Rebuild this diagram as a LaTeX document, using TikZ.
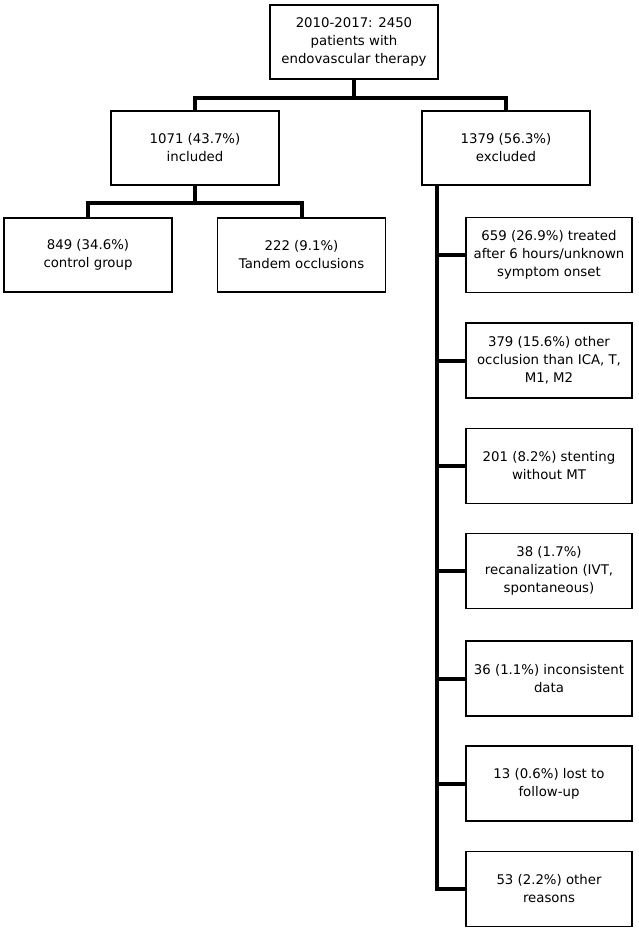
\documentclass[tikz,border=0pt]{standalone}
\usepackage{fontspec}
\setmainfont{DejaVu Sans}
\begin{document}
\begin{tikzpicture}[x=1pt,y=-1pt,
  box/.style={draw,line width=1.5pt,align=center,minimum width=168pt,minimum height=74pt,inner sep=0pt},
  conn/.style={line width=4pt}]
\fontsize{13.3}{18}\selectfont
%%
\newcommand{\rsn}[3]{\node[box,minimum width=166pt,minimum height=75pt](#1) at (549,#2){#3};}
%%
\useasboundingbox (0,0) rectangle (638,931);
%
\node[box] (all) at (354,42) {2010-2017: 2450\\patients with\\endovascular therapy};
\node[box] (incl) at (195,148) {1071 (43.7\%)\\included};
\node[box] (excl) at (506,148) {1379 (56.3\%)\\excluded};
\node[box] (ctrl) at (88,255) {849 (34.6\%)\\control group};
\node[box] (tand) at (301.5,255) {222 (9.1\%)\\Tandem occlusions};
%
\rsn{late}{255}{659 (26.9\%) treated\\after 6 hours/unknown\\symptom onset}
\rsn{occl}{360.5}{379 (15.6\%) other\\occlusion than ICA, T,\\M1, M2}
\rsn{stent}{466}{201 (8.2\%) stenting\\without MT}
\rsn{recan}{571}{38 (1.7\%)\\recanalization (IVT,\\spontaneous)}
\rsn{incon}{678.5}{36 (1.1\%) inconsistent\\data}
\rsn{lost}{783.5}{13 (0.6\%) lost to\\follow-up}
\rsn{other}{889}{53 (2.2\%) other\\reasons}
%
\draw[conn] (all.south) -- +(0,18) coordinate (j1);
\draw[conn] (incl.north) |- (j1) -| (excl.north);
\draw[conn] (incl.south) -- +(0,17) coordinate (j2);
\draw[conn] (ctrl.north) |- (j2) -| (tand.north);
%
\coordinate (tr) at (437,185);
\draw[conn] (tr) |- (other.west);
\draw[conn] (late.west) -- (late.west -| tr);
\draw[conn] (occl.west) -- (occl.west -| tr);
\draw[conn] (stent.west) -- (stent.west -| tr);
\draw[conn] (recan.west) -- (recan.west -| tr);
\draw[conn] (incon.west) -- (incon.west -| tr);
\draw[conn] (lost.west) -- (lost.west -| tr);
\end{tikzpicture}
\end{document}
